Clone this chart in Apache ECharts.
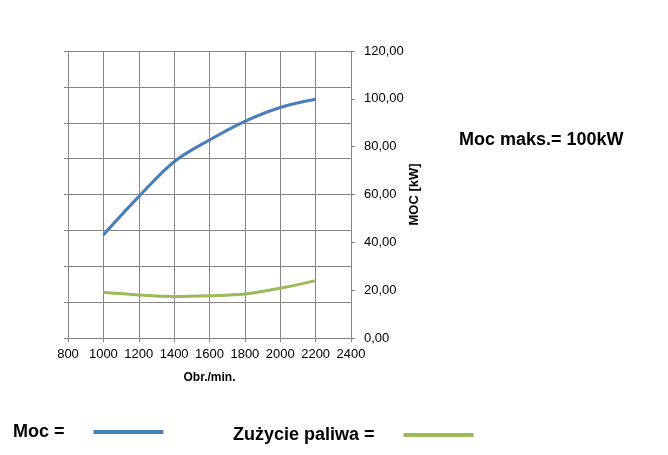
<!DOCTYPE html>
<html>
<head>
<meta charset="utf-8">
<script src="https://cdn.jsdelivr.net/npm/echarts@6/dist/echarts.min.js"></script>
<style>
html,body{margin:0;padding:0;background:#fff;}
#main{width:668px;height:455px;}
</style>
</head>
<body>
<div id="main"></div>
<script>
var dom = document.getElementById("main");
var myChart = echarts.init(dom);

// dane z wykresu
var obroty = [1000, 1200, 1400, 1600, 1800, 2000, 2200];
var moc = [43.1, 59.1, 73.7, 82.8, 90.6, 96.4, 99.8];
var zuzycie = [19.1, 18.0, 17.4, 17.7, 18.4, 20.8, 24.0];
var nazwy = ['Moc', 'Zużycie paliwa'];
var kolory = ['#4a7ebb', '#9bbb59'];

var font = 'Liberation Sans';

function pary(xs, ys) {
    var out = [];
    xs.forEach(function (x, i) { out.push([x, ys[i]]); });
    return out;
}

var option = {
    animation: false,
    backgroundColor: '#fff',
    textStyle: { fontFamily: font },
    title: {
        text: 'Moc maks.= 100kW',
        left: 454,
        top: 126,
        textStyle: { fontSize: 18, fontWeight: 'bold', color: '#000', fontFamily: font }
    },
    legend: [{
        data: [nazwy[0]],
        left: 8,
        top: 418,
        align: 'right',
        icon: 'rect',
        itemWidth: 70,
        itemHeight: 4,
        formatter: function (n) { return n + ' ='; },
        textStyle: { fontSize: 18, fontWeight: 'bold', color: '#000', padding: [0, 24, 0, 0] }
    }, {
        data: [nazwy[1]],
        left: 228,
        top: 421,
        align: 'right',
        icon: 'rect',
        itemWidth: 70,
        itemHeight: 4,
        formatter: function (n) { return n + ' ='; },
        textStyle: { fontSize: 18, fontWeight: 'bold', color: '#000', padding: [0, 24, 0, 0] }
    }],
    grid: { left: 68, right: 317, top: 51, bottom: 117 },
    xAxis: {
        type: 'value',
        min: 800,
        max: 2400,
        interval: 200,
        name: 'Obr./min.',
        nameLocation: 'middle',
        nameGap: 34,
        nameTextStyle: { fontSize: 12, fontWeight: 'bold', color: '#000' },
        axisLine: { lineStyle: { color: '#868686' } },
        axisTick: { show: true, length: 4, lineStyle: { color: '#868686' } },
        axisLabel: {
            color: '#000',
            fontSize: 13,
            margin: 10,
            formatter: function (v) { return String(v); }
        },
        splitLine: { show: true, lineStyle: { color: '#868686', width: 1 } }
    },
    yAxis: [{
        type: 'value',
        position: 'right',
        min: 0,
        max: 120,
        interval: 20,
        name: 'MOC [kW]',
        nameLocation: 'middle',
        nameRotate: 90,
        nameGap: 55,
        nameTextStyle: { fontSize: 13, fontWeight: 'bold', color: '#000' },
        axisLine: { show: true, lineStyle: { color: '#868686' } },
        axisTick: { show: true, length: 4, lineStyle: { color: '#868686' } },
        axisLabel: {
            color: '#000',
            fontSize: 13,
            margin: 13,
            formatter: function (v) { return v.toFixed(2).replace('.', ','); }
        },
        splitLine: { show: false }
    }, {
        type: 'value',
        position: 'left',
        min: 0,
        max: 8,
        interval: 1,
        axisLine: { show: true, lineStyle: { color: '#868686' } },
        axisTick: { show: true, length: 4, lineStyle: { color: '#868686' } },
        axisLabel: { show: false },
        splitLine: { show: true, lineStyle: { color: '#868686', width: 1 } }
    }],
    series: [{
        name: nazwy[0],
        type: 'line',
        yAxisIndex: 0,
        smooth: 0.35,
        showSymbol: false,
        color: kolory[0],
        lineStyle: { width: 3, color: kolory[0] },
        data: pary(obroty, moc)
    }, {
        name: nazwy[1],
        type: 'line',
        yAxisIndex: 0,
        smooth: 0.35,
        showSymbol: false,
        color: kolory[1],
        lineStyle: { width: 3, color: kolory[1] },
        data: pary(obroty, zuzycie)
    }]
};

if (option && typeof option === "object") {
    myChart.setOption(option, true);
}
window.addEventListener("resize", function () {
    myChart.resize();
});
</script>
</body>
</html>
